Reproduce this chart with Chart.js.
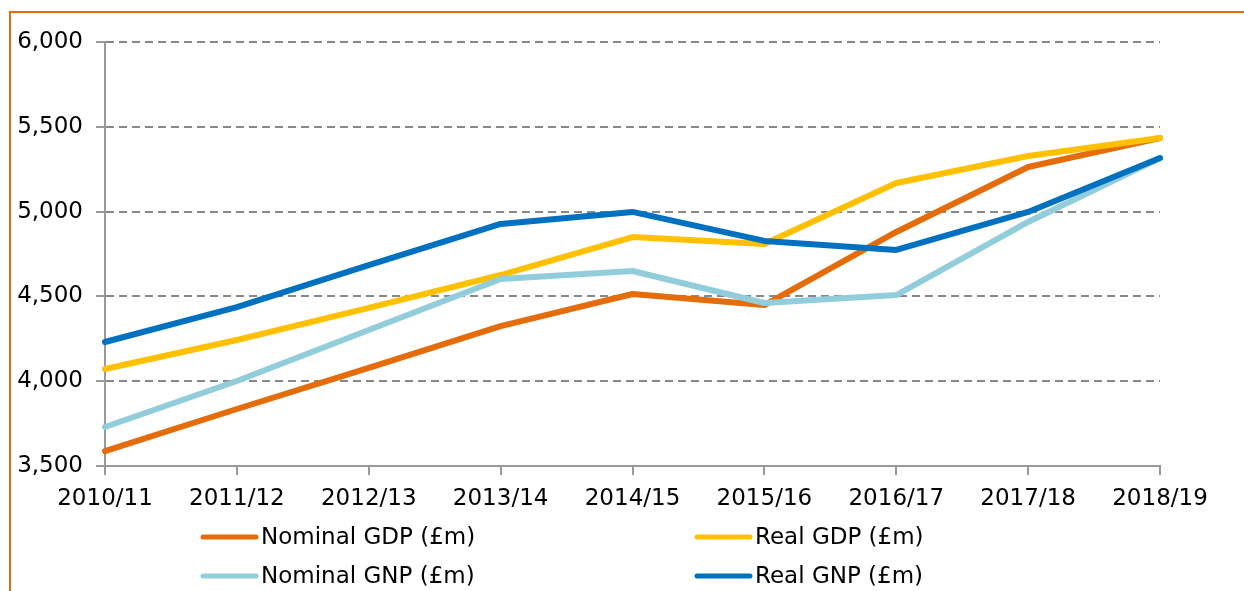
<!DOCTYPE html>
<html>
<head>
<meta charset="utf-8">
<script src="https://cdn.jsdelivr.net/npm/chart.js@4/dist/chart.umd.min.js"></script>
<style>
  html, body { margin: 0; padding: 0; background: #fff; }
  #wrap { width: 1244px; height: 591px; position: relative; }
</style>
</head>
<body>
<div id="wrap"><canvas id="gdpChart" width="1244" height="591"></canvas></div>
<script>
const years = ['2010/11', '2011/12', '2012/13', '2013/14', '2014/15', '2015/16', '2016/17', '2017/18', '2018/19'];

const nominalGdp = [3588, 3836, 4078, 4325, 4514, 4449, 4880, 5263, 5434];
const realGdp = [4072, 4243, 4432, 4626, 4850, 4809, 5169, 5328, 5434];
const nominalGnp = [3730, 4001, 4302, 4603, 4650, 4461, 4508, 4939, 5316];
const realGnp = [4231, 4437, 4685, 4927, 4998, 4827, 4774, 4998, 5316];

const FONT = 'DejaVu Sans';

// orange frame on left and top, like the source document box
const framePlugin = {
  id: 'frame',
  beforeDraw(chart) {
    const c = chart.ctx;
    c.save();
    c.strokeStyle = '#E46C0A';
    c.lineWidth = 2;
    c.lineCap = 'butt';
    c.beginPath();
    c.moveTo(10, 591);
    c.lineTo(10, 12);
    c.lineTo(1244, 12);
    c.stroke();
    c.restore();
  }
};

// two-column legend under the x axis
const legendPlugin = {
  id: 'twoColLegend',
  afterDraw(chart) {
    const c = chart.ctx;
    const cols = [203, 697];
    const rows = [537, 576];
    c.save();
    c.font = '23px "' + FONT + '"';
    c.textBaseline = 'middle';
    c.textAlign = 'left';
    chart.data.datasets.forEach((ds, i) => {
      const x = cols[i % 2];
      const y = rows[Math.floor(i / 2)];
      c.strokeStyle = ds.borderColor;
      c.lineWidth = 5;
      c.lineCap = 'round';
      c.beginPath();
      c.moveTo(x, y);
      c.lineTo(x + 53, y);
      c.stroke();
      c.fillStyle = '#000';
      c.fillText(ds.label, x + 58, y + 1);
    });
    c.restore();
  }
};

const line = (label, data, color, order) => ({
  label, data,
  borderColor: color,
  backgroundColor: color,
  borderWidth: 6,
  pointRadius: 0,
  tension: 0,
  fill: false,
  borderCapStyle: 'round',
  borderJoinStyle: 'round',
  order
});

new Chart(document.getElementById('gdpChart').getContext('2d'), {
  type: 'line',
  data: {
    labels: years,
    datasets: [
      line('Nominal GDP (£m)', nominalGdp, '#E46C0A', 3),
      line('Real GDP (£m)', realGdp, '#FFC000', 2),
      line('Nominal GNP (£m)', nominalGnp, '#92CDDC', 1),
      line('Real GNP (£m)', realGnp, '#0070C0', 0)
    ]
  },
  options: {
    responsive: false,
    animation: false,
    layout: { padding: { left: 0, top: 42, right: 84, bottom: 0 } },
    plugins: {
      legend: { display: false },
      tooltip: { enabled: false }
    },
    scales: {
      x: {
        offset: false,
        afterFit(scale) { scale.height = 125; },
        grid: { drawOnChartArea: false, drawTicks: true, tickLength: 9, color: '#999', lineWidth: 2 },
        border: { display: true, color: '#999', width: 2 },
        ticks: { color: '#000', font: { family: FONT, size: 23 }, padding: 10, maxRotation: 0, autoSkip: false }
      },
      y: {
        min: 3500,
        max: 6000,
        afterFit(scale) { scale.width = 105; },
        grid: { color: '#888', lineWidth: 2, tickLength: 9, tickColor: '#999' },
        border: { display: true, color: '#999', width: 2, dash: [8, 5] },
        ticks: {
          stepSize: 500,
          color: '#000',
          padding: 13,
          font: { family: FONT, size: 23 },
          callback: v => v.toLocaleString('en-GB')
        }
      }
    }
  },
  plugins: [framePlugin, legendPlugin]
});
</script>
</body>
</html>
